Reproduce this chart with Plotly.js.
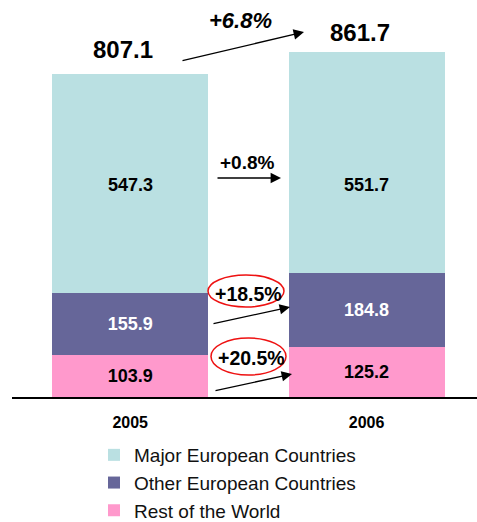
<!DOCTYPE html>
<html>
<head>
<meta charset="utf-8">
<script src="https://cdn.plot.ly/plotly-3.0.1.min.js"></script>
<style>html,body{margin:0;padding:0;background:#fff;}#chart{width:477px;height:522px;}</style>
</head>
<body>
<div id="chart"></div>
<script>
// ---- data ----
const years = ['2005', '2006'];
const seriesNames = ['Rest of the World', 'Other European Countries', 'Major European Countries'];
const restOfWorld = [103.9, 125.2];
const otherEurope = [155.9, 184.8];
const majorEurope = [547.3, 551.7];
const colors = ['#ff99cc', '#666699', '#bae0e2'];

const FONT = 'Arial, "Liberation Sans", sans-serif';
const totals = years.map((_, i) => restOfWorld[i] + otherEurope[i] + majorEurope[i]);
const pct = (a, b) => '+' + ((b / a - 1) * 100).toFixed(1) + '%';

// pixel -> paper helpers (plot area: x 12..477, y 37..397)
const PX = px => (px - 12) / 465;
const PY = py => (397 - py) / 360;

const traces = [
  {type: 'bar', name: seriesNames[0], legendgroup: 'a', legendrank: 3, x: years, y: restOfWorld, marker: {color: colors[0]},
   text: restOfWorld.map(v => v.toFixed(1)), textposition: 'inside', insidetextanchor: 'middle',
   textfont: {family: FONT, size: 18, color: '#000', weight: 'bold'}, hoverinfo: 'skip'},
  {type: 'bar', name: seriesNames[1], legendgroup: 'b', legendrank: 2, x: years, y: otherEurope, marker: {color: colors[1]},
   text: otherEurope.map(v => v.toFixed(1)), textposition: 'inside', insidetextanchor: 'middle',
   textfont: {family: FONT, size: 18, color: '#fff', weight: 'bold'}, hoverinfo: 'skip'},
  {type: 'bar', name: seriesNames[2], legendgroup: 'c', legendrank: 1, x: years, y: majorEurope, marker: {color: colors[2]},
   textposition: 'none', hoverinfo: 'skip'}
];

const ann = [];
const txt = (px, py, t, size) => ({x: PX(px), y: PY(py), xref: 'paper', yref: 'paper', text: t,
  xanchor: 'center', yanchor: 'middle', showarrow: false, font: {family: FONT, size: size, color: '#000'}});
// major labels (placed at a common height)
years.forEach((yr, i) => {
  ann.push({x: i, y: (397 - 185) / 0.4, xref: 'x', yref: 'y', text: '<b>' + majorEurope[i].toFixed(1) + '</b>',
    xanchor: 'center', yanchor: 'middle', showarrow: false, font: {family: FONT, size: 18, color: '#000'}});
});
// totals
ann.push(txt(123, 50, '<b>' + totals[0].toFixed(1) + '</b>', 24));
ann.push(txt(360, 32, '<b>' + totals[1].toFixed(1) + '</b>', 24));
// growth labels
ann.push(txt(240, 21, '<b><i>' + pct(totals[0], totals[1]) + '</i></b>', 22));
ann.push(txt(247, 162, '<b>' + pct(majorEurope[0], majorEurope[1]) + '</b>', 19));
ann.push(txt(249, 294, '<b>' + pct(otherEurope[0], otherEurope[1]) + '</b>', 19.5));
ann.push(txt(251, 358, '<b>' + pct(restOfWorld[0], restOfWorld[1]) + '</b>', 19.5));
// arrows: [tailX, tailY, headX, headY]
const arrows = [[181, 61, 304, 32], [216, 178, 281, 178], [212, 324, 290, 307], [214, 391, 292, 374]];
arrows.forEach(a => {
  ann.push({x: PX(a[2]), y: PY(a[3]), xref: 'paper', yref: 'paper', text: '', showarrow: true,
    ax: a[0] - a[2], ay: a[1] - a[3], arrowhead: 2, arrowsize: 1.6, arrowwidth: 1.3,
    arrowcolor: '#000', standoff: 0, startstandoff: 0});
});

const shapes = [
  {type: 'circle', xref: 'paper', yref: 'paper', x0: PX(208), x1: PX(284), y0: PY(275), y1: PY(307), line: {color: '#ee1111', width: 1.5}},
  {type: 'circle', xref: 'paper', yref: 'paper', x0: PX(211), x1: PX(286), y0: PY(338), y1: PY(375), line: {color: '#ee1111', width: 1.5}}
];

const layout = {
  width: 477, height: 522,
  margin: {l: 12, r: 0, t: 37, b: 125, autoexpand: false},
  paper_bgcolor: '#fff', plot_bgcolor: '#fff',
  barmode: 'stack', bargap: 0.34,
  font: {family: FONT, color: '#000'},
  xaxis: {type: 'category', range: [-0.5, 1.467], showline: true, linecolor: '#000', linewidth: 2,
    showgrid: false, zeroline: false, ticks: '', ticklabelstandoff: 10,
    tickfont: {family: FONT, size: 16, color: '#000', weight: 'bold'}, fixedrange: true},
  yaxis: {range: [0, 900], visible: false, showgrid: false, zeroline: false, fixedrange: true},
  showlegend: true,
  legend: {x: PX(94), xanchor: 'left', y: PY(436), yanchor: 'top', orientation: 'v',
    traceorder: 'grouped', font: {family: FONT, size: 19, color: '#111'}, tracegroupgap: 0,
    bgcolor: 'rgba(0,0,0,0)'},
  annotations: ann,
  shapes: shapes
};

Plotly.newPlot('chart', traces, layout, {displayModeBar: false, staticPlot: true});
</script>
</body>
</html>
